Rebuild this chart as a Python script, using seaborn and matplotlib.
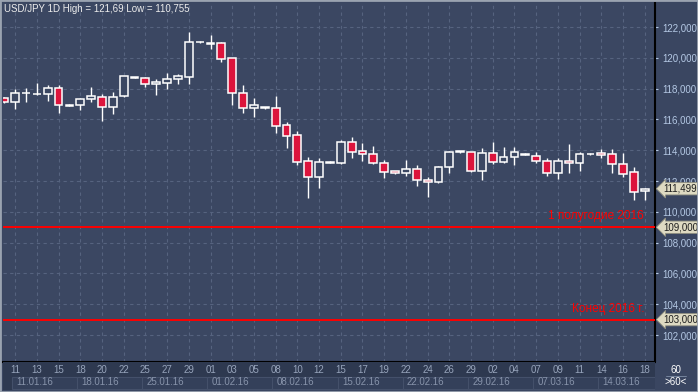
import numpy as np
import pandas as pd
import matplotlib
matplotlib.use("Agg")
import matplotlib.pyplot as plt
import matplotlib.transforms as mtransforms
from matplotlib.patches import Rectangle
import seaborn as sns

# trading days shown on the chart (Sun-Fri candles)
dates = [d for d in pd.date_range("2016-01-10", "2016-03-18") if d.dayofweek != 5]

opens = [117.37, 117.11, 117.69, 117.63, 117.63, 118.02, 116.90, 116.92, 117.30, 117.47,
         116.79, 117.54, 118.75, 118.67, 118.28, 118.38, 118.60, 118.77, 121.00, 120.93,
         120.94, 119.97, 117.69, 116.72, 116.78, 116.72, 115.64, 114.99, 113.30, 112.28,
         113.20, 113.15, 114.53, 113.95, 113.75, 113.15, 112.63, 112.50, 112.76, 112.06,
         111.92, 112.89, 113.88, 113.90, 112.67, 113.80, 113.25, 113.54, 113.72, 113.64,
         113.32, 112.54, 113.32, 113.15, 113.73, 113.80, 113.75, 113.08, 112.56, 111.35]
highs = [117.45, 117.97, 118.02, 118.36, 118.23, 118.23, 116.98, 117.41, 118.08, 117.65,
         117.78, 118.84, 118.78, 118.77, 118.60, 119.03, 118.95, 121.69, 121.07, 121.48,
         121.03, 119.97, 118.23, 117.37, 116.80, 117.54, 115.85, 115.25, 113.54, 113.49,
         113.30, 114.66, 114.88, 114.49, 114.29, 113.36, 112.66, 113.36, 113.04, 112.28,
         112.99, 113.97, 113.95, 113.90, 114.12, 114.51, 114.18, 114.18, 113.83, 113.86,
         113.47, 113.47, 114.40, 113.86, 113.80, 114.06, 114.06, 113.84, 112.93, 111.57]
lows = [117.05, 116.66, 117.15, 117.56, 117.21, 116.44, 116.85, 116.61, 117.15, 115.92,
        116.37, 117.47, 118.68, 118.12, 117.58, 117.97, 118.30, 118.30, 120.98, 120.59,
        119.75, 116.94, 116.44, 116.18, 116.70, 115.14, 114.16, 113.04, 110.92, 111.56,
        113.15, 113.10, 113.51, 113.30, 113.08, 112.21, 112.47, 112.32, 111.69, 110.98,
        111.85, 112.50, 113.85, 112.60, 112.06, 113.10, 113.19, 113.04, 113.66, 113.15,
        112.32, 112.13, 112.54, 112.67, 113.70, 113.47, 112.54, 112.28, 110.755, 110.80]
closes = [117.11, 117.69, 117.72, 117.66, 118.02, 116.92, 116.95, 117.30, 117.50, 116.79,
          117.43, 118.80, 118.70, 118.28, 118.43, 118.60, 118.82, 121.01, 121.05, 120.99,
          119.94, 117.69, 116.72, 116.94, 116.74, 115.59, 114.94, 113.25, 112.28, 113.23,
          113.25, 114.53, 113.90, 113.75, 113.15, 112.60, 112.50, 112.76, 112.06, 111.92,
          112.89, 113.86, 113.92, 112.67, 113.80, 113.25, 113.54, 113.90, 113.78, 113.32,
          112.54, 113.32, 113.15, 113.75, 113.77, 113.67, 113.08, 112.44, 111.27, 111.499]

levels = [109.0, 103.0]
level_labels = ["1 полугодие 2016", "Конец 2016 г."]
price_ticks = list(range(102, 123, 2))
title = "USD/JPY 1D High = 121,69 Low = 110,755"

BG = "#3b4762"
PANEL = "#2e3950"
GRID = "#56637f"
UP_EDGE = "#ffffff"
DOWN = "#dc143c"
TAG = "#dedac2"

sns.set_theme(style="dark")
plt.rcParams["font.family"] = ["Liberation Sans", "DejaVu Sans"]

def fmt(v):
    return f"{v:.3f}".replace(".", ",")

fig = plt.figure(figsize=(6.98, 3.92), dpi=100, facecolor="#3a4661")
ax = fig.add_axes([3 / 698, 30 / 392, 652 / 698, 359 / 392])
ax.set_facecolor(BG)

x = np.arange(len(dates))
w = 0.72
for i in x:
    o, h, l, c = opens[i], highs[i], lows[i], closes[i]
    ax.vlines(i, l, h, color="white", lw=1, zorder=3)
    bottom = min(o, c)
    height = max(abs(c - o), 0.05)
    fc = DOWN if c < o else BG
    ax.add_patch(Rectangle((i - w / 2, bottom), w, height, facecolor=fc,
                           edgecolor="white", lw=1.1, zorder=4))

for lev, lab in zip(levels, level_labels):
    ax.axhline(lev, color="#ff0000", lw=1.4, zorder=5)
    ax.text(58.95, lev + 0.7, lab, color="#ff0000", fontsize=8.5,
            ha="right", va="center", zorder=6)

ax.set_xlim(-0.12, 59.95)
ax.set_ylim(100.25, 123.56)
ax.set_xticks(x[1::2])
ax.set_yticks(price_ticks)
ax.yaxis.tick_right()
ax.set_yticklabels([fmt(v) for v in price_ticks])
ax.tick_params(axis="y", colors="#b4c8e4", labelsize=7, length=2, pad=3, width=0.8)
ax.tick_params(axis="x", labelbottom=False, length=0)
ax.grid(True, color=GRID, linestyle=(0, (3, 3)), lw=0.8)
for s in ["top", "left"]:
    ax.spines[s].set_visible(False)
ax.spines["right"].set_color("black")
ax.spines["right"].set_linewidth(1.5)
ax.spines["bottom"].set_color("black")
ax.spines["bottom"].set_linewidth(1.5)

# price tags on the right axis
trans = mtransforms.blended_transform_factory(ax.transAxes, ax.transData)
for v in [closes[-1]] + levels:
    ax.text(1.012, v, fmt(v), transform=trans, fontsize=7, color="#1e1e1e",
            ha="left", va="center", clip_on=False, zorder=10,
            bbox=dict(boxstyle="larrow,pad=0.12", fc=TAG, ec="#8f8f80", lw=0.6))

fig.text(4 / 698, 1 - 9 / 392, title, color="#ececec", fontsize=7, ha="left", va="center")

# date panel
axb = fig.add_axes([3 / 698, 2 / 392, 652 / 698, 28 / 392])
axb.set_facecolor(PANEL)
axb.set_xlim(ax.get_xlim())
axb.set_ylim(0, 1)
axb.axis("off")
axb.add_patch(Rectangle((0, 0), 1, 1, transform=axb.transAxes, fc=PANEL, ec="none", zorder=0))
for i in x[1::2]:
    axb.text(i, 0.7, dates[i].strftime("%d"), color="#97a4bb", fontsize=7,
             ha="center", va="center")
mondays = [i for i in x if dates[i].dayofweek == 0]
for k, i in enumerate(mondays):
    end = mondays[k + 1] if k + 1 < len(mondays) else 60.5
    axb.add_patch(Rectangle((i - 0.3, 0.05), end - i, 0.42, fc="#34405a",
                            ec="#44506a", lw=0.8, zorder=1))
    axb.text(i + 0.1, 0.27, dates[i].strftime("%d.%m.%y"), color="#8793aa",
             fontsize=7, ha="left", va="center", zorder=2)

# corner box
axc = fig.add_axes([656 / 698, 2 / 392, 40 / 698, 28 / 392])
axc.set_facecolor("#3a4661")
axc.set_xticks([])
axc.set_yticks([])
for s in axc.spines.values():
    s.set_visible(False)
axc.text(0.5, 0.72, str(len(dates)), color="white", fontsize=7, ha="center", va="center",
         transform=axc.transAxes)
axc.plot([0.25, 0.75], [0.5, 0.5], color="#8090a8", lw=0.6, transform=axc.transAxes)
axc.text(0.5, 0.27, f">{len(dates)}<", color="white", fontsize=7, ha="center", va="center",
         transform=axc.transAxes)

fig.add_artist(Rectangle((0, 0), 1, 1, transform=fig.transFigure, fill=False,
                         ec="#9aa3b0", lw=2))

fig.savefig("out.png", dpi=100, facecolor=fig.get_facecolor())
